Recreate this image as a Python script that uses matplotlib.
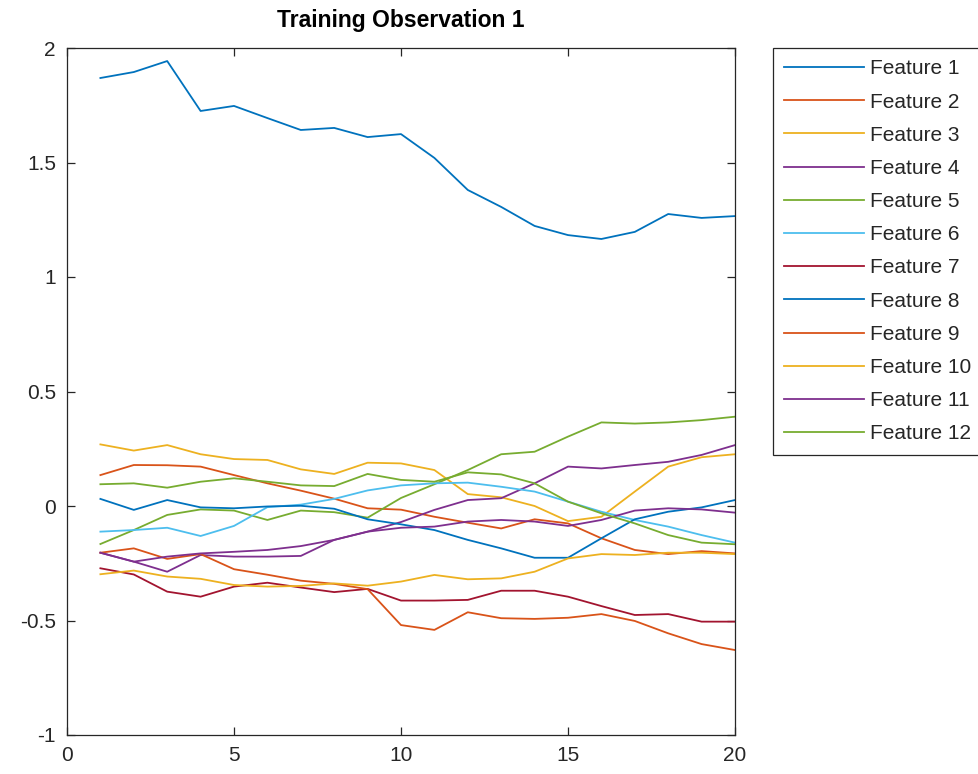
import matplotlib
matplotlib.use("Agg")
import matplotlib.pyplot as plt

plt.rcParams['font.family'] = ['Liberation Sans', 'DejaVu Sans']
plt.rcParams['axes.unicode_minus'] = False

steps = list(range(1, 21))

f1 = [1.869, 1.895, 1.943, 1.725, 1.747, 1.694, 1.642, 1.651, 1.611, 1.624,
      1.52, 1.38, 1.306, 1.223, 1.183, 1.166, 1.197, 1.275, 1.258, 1.266]
f2 = [0.135, 0.179, 0.178, 0.172, 0.135, 0.099, 0.067, 0.032, -0.01, -0.016,
      -0.047, -0.073, -0.098, -0.058, -0.076, -0.141, -0.192, -0.21, -0.197, -0.207]
f3 = [0.269, 0.242, 0.266, 0.226, 0.205, 0.201, 0.160, 0.140, 0.189, 0.186,
      0.157, 0.052, 0.038, 0.0, -0.066, -0.047, 0.063, 0.172, 0.213, 0.226]
f4 = [-0.204, -0.243, -0.287, -0.214, -0.221, -0.221, -0.218, -0.148, -0.112, -0.07,
      -0.017, 0.026, 0.034, 0.099, 0.172, 0.164, 0.179, 0.193, 0.223, 0.266]
f5 = [-0.166, -0.105, -0.039, -0.015, -0.02, -0.061, -0.02, -0.027, -0.051, 0.035,
      0.095, 0.157, 0.226, 0.237, 0.303, 0.365, 0.36, 0.365, 0.375, 0.39]
f6 = [-0.112, -0.105, -0.095, -0.131, -0.087, -0.005, 0.006, 0.031, 0.068, 0.09,
      0.099, 0.102, 0.084, 0.063, 0.019, -0.025, -0.061, -0.09, -0.127, -0.16]
f7 = [-0.272, -0.299, -0.374, -0.396, -0.352, -0.335, -0.356, -0.376, -0.362, -0.413,
      -0.413, -0.41, -0.37, -0.37, -0.396, -0.437, -0.476, -0.472, -0.505, -0.505]
f8 = [0.031, -0.017, 0.026, -0.006, -0.01, -0.002, 0.001, -0.012, -0.058, -0.08,
      -0.105, -0.148, -0.185, -0.226, -0.226, -0.141, -0.058, -0.025, -0.006, 0.026]
f9 = [-0.204, -0.185, -0.231, -0.21, -0.276, -0.3, -0.326, -0.34, -0.363, -0.52,
      -0.541, -0.464, -0.49, -0.493, -0.488, -0.472, -0.502, -0.556, -0.603, -0.629]
f10 = [-0.298, -0.282, -0.308, -0.318, -0.345, -0.352, -0.349, -0.338, -0.348, -0.33,
       -0.301, -0.32, -0.316, -0.287, -0.229, -0.21, -0.214, -0.204, -0.204, -0.21]
f11 = [-0.204, -0.243, -0.221, -0.207, -0.2, -0.192, -0.175, -0.148, -0.112, -0.095,
       -0.09, -0.068, -0.061, -0.068, -0.087, -0.061, -0.02, -0.01, -0.015, -0.029]
f12 = [0.095, 0.099, 0.080, 0.106, 0.121, 0.106, 0.09, 0.087, 0.14, 0.114,
       0.106, 0.147, 0.138, 0.099, 0.019, -0.032, -0.076, -0.127, -0.16, -0.167]

features = [f1, f2, f3, f4, f5, f6, f7, f8, f9, f10, f11, f12]
labels = ['Feature %d' % (i + 1) for i in range(12)]

# matlab default line colour order
colors = ['#0072BD', '#D95319', '#EDB120', '#7E2F8E', '#77AC30', '#4DBEEE', '#A2142F']

xticks = [0, 5, 10, 15, 20]
yticks = [-1, -0.5, 0, 0.5, 1, 1.5, 2]
ytick_labels = ['-1', '-0.5', '0', '0.5', '1', '1.5', '2']

fig = plt.figure(figsize=(9.79, 7.74), dpi=100)
ax = fig.add_axes([67 / 979, 39 / 774, 668 / 979, 687 / 774])

for i, ys in enumerate(features):
    ax.plot(steps, ys, color=colors[i % 7], lw=1.3, label=labels[i])

ax.set_xlim(0, 20)
ax.set_ylim(-1, 2)
ax.set_xticks(xticks)
ax.set_yticks(yticks)
ax.set_yticklabels(ytick_labels)
ax.tick_params(direction='in', length=6, width=0.9, top=True, right=True,
               labelsize=15, colors='#262626', pad=8)
for s in ax.spines.values():
    s.set_color('#262626')
    s.set_linewidth(0.9)

ax.set_title('Training Observation 1', fontsize=16.5, fontweight='bold', pad=15)

leg = ax.legend(loc='upper left', bbox_to_anchor=(773 / 979, 726 / 774),
                bbox_transform=fig.transFigure, fontsize=15, handlelength=3.8,
                handletextpad=0.3, labelspacing=0.68, borderpad=0.55,
                fancybox=False, framealpha=1, borderaxespad=0)
leg.get_frame().set_edgecolor('#262626')
leg.get_frame().set_linewidth(0.9)
for t in leg.get_texts():
    t.set_color('#262626')

fig.savefig('out.png', dpi=100)
